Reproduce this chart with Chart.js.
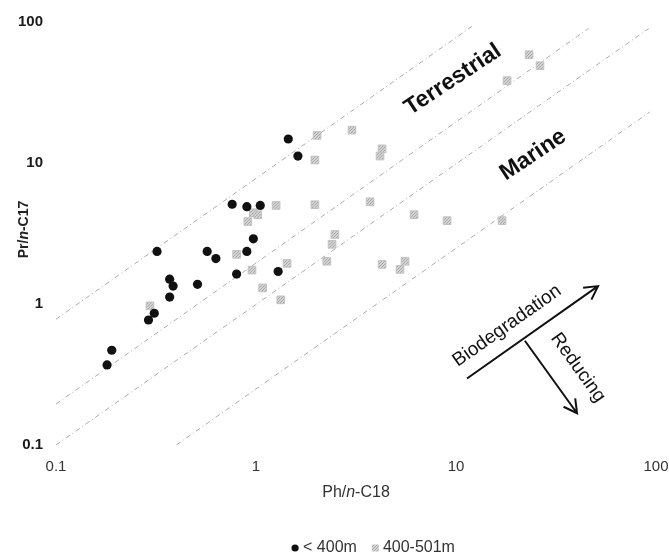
<!DOCTYPE html>
<html>
<head>
<meta charset="utf-8">
<script src="https://cdn.jsdelivr.net/npm/chart.js@4.4.1/dist/chart.umd.min.js"></script>
<style>
  html, body { margin: 0; padding: 0; background: #fff; }
  #wrap { width: 669px; height: 559px; }
</style>
</head>
<body>
<div id="wrap"><canvas id="ratioChart"></canvas></div>
<script>
// Ph/n-C18 (x) and Pr/n-C17 (y), samples shallower than 400 m
const shallowX = [1.45, 1.62, 0.76, 0.90, 1.05, 0.97, 0.90, 0.32, 0.57, 0.63, 0.80, 1.29, 0.37, 0.385, 0.51, 0.37, 0.31, 0.29, 0.19, 0.18];
const shallowY = [14.8, 11.2, 5.1, 4.9, 5.0, 2.9, 2.36, 2.36, 2.36, 2.1, 1.63, 1.7, 1.5, 1.34, 1.38, 1.12, 0.86, 0.77, 0.47, 0.37];

// samples from 400-501 m
const deepX = [1.26, 1.97, 0.97, 1.02, 0.91, 2.48, 2.40, 0.80, 1.43, 0.955, 2.26, 1.08, 1.33, 3.02, 2.02, 1.97, 4.27, 4.17, 3.72, 6.17, 9.02, 4.27, 5.56, 5.25, 23.2, 26.3, 18.0, 17.0, 0.295];
const deepY = [5.0, 5.06, 4.44, 4.3, 3.84, 3.11, 2.65, 2.25, 1.94, 1.74, 2.01, 1.30, 1.07, 17.1, 15.7, 10.5, 12.6, 11.2, 5.31, 4.30, 3.9, 1.91, 2.01, 1.76, 58.6, 49.0, 38.4, 3.9, 0.97];

const seriesLabels = ['< 400m', '400-501m'];

const tickValues = [0.1, 1, 10, 100];
const tickLabels = ['0.1', '1', '10', '100'];

// dashed guide lines (start / end points)
const guideStartX = [0.1, 0.1, 0.1, 0.4];
const guideStartY = [0.78, 0.195, 0.1, 0.1];
const guideEndX = [12, 46, 92, 93];
const guideEndY = [93, 90, 90, 23];

const FONT = '"Liberation Sans", Arial, sans-serif';

function toPoints(xs, ys) {
  return xs.map((v, i) => ({ x: v, y: ys[i] }));
}

// speckled grey fill for the squares
function greyPattern() {
  const c = document.createElement('canvas');
  c.width = 3; c.height = 3;
  const g = c.getContext('2d');
  g.fillStyle = '#d4d4d4';
  g.fillRect(0, 0, 3, 3);
  g.fillStyle = '#a8a8a8';
  g.fillRect(0, 0, 1, 1);
  g.fillRect(2, 1, 1, 1);
  g.fillRect(1, 2, 1, 1);
  return g.createPattern(c, 'repeat');
}
const greyFill = greyPattern();

const datasets = [
  {
    label: seriesLabels[0],
    data: toPoints(shallowX, shallowY),
    pointStyle: 'circle',
    pointRadius: 4.6,
    backgroundColor: '#111',
    borderColor: '#111',
    borderWidth: 0
  },
  {
    label: seriesLabels[1],
    data: toPoints(deepX, deepY),
    pointStyle: 'rect',
    pointRadius: 5.4,
    backgroundColor: greyFill,
    borderColor: '#c2c2c2',
    borderWidth: 1
  }
];

guideStartX.forEach((sx, i) => {
  datasets.push({
    label: 'guide' + i,
    data: [{ x: sx, y: guideStartY[i] }, { x: guideEndX[i], y: guideEndY[i] }],
    showLine: true,
    pointRadius: 0,
    borderColor: '#ababab',
    borderWidth: 1,
    borderDash: [5, 3, 1, 3]
  });
});

function decadeTicks(scale) {
  scale.ticks = tickValues.map(v => ({ value: v }));
}

// text with an italic "n" in the middle
function drawRich(ctx, parts, size, weight, color) {
  let total = 0;
  parts.forEach(p => {
    ctx.font = (p.italic ? 'italic ' : '') + weight + ' ' + size + 'px ' + FONT;
    p.w = ctx.measureText(p.text).width;
    total += p.w;
  });
  let cx = -total / 2;
  ctx.fillStyle = color;
  ctx.textBaseline = 'middle';
  ctx.textAlign = 'left';
  parts.forEach(p => {
    ctx.font = (p.italic ? 'italic ' : '') + weight + ' ' + size + 'px ' + FONT;
    ctx.fillText(p.text, cx, 0);
    cx += p.w;
  });
}

function arrow(ctx, x0, y0, x1, y1) {
  const a = Math.atan2(y1 - y0, x1 - x0);
  const head = 15;
  ctx.beginPath();
  ctx.moveTo(x0, y0);
  ctx.lineTo(x1, y1);
  ctx.moveTo(x1 - head * Math.cos(a - 0.5), y1 - head * Math.sin(a - 0.5));
  ctx.lineTo(x1, y1);
  ctx.lineTo(x1 - head * Math.cos(a + 0.5), y1 - head * Math.sin(a + 0.5));
  ctx.stroke();
  return a;
}

function rotatedText(ctx, text, x, y, angle, font) {
  ctx.save();
  ctx.translate(x, y);
  ctx.rotate(angle);
  ctx.font = font;
  ctx.textAlign = 'center';
  ctx.textBaseline = 'middle';
  ctx.fillText(text, 0, 0);
  ctx.restore();
}

const annotate = {
  id: 'annotate',
  afterDraw(chart) {
    const { ctx } = chart;
    const xs = chart.scales.x, ys = chart.scales.y;
    const px = v => xs.getPixelForValue(v);
    const py = v => ys.getPixelForValue(v);

    ctx.save();
    ctx.fillStyle = '#111';

    // field labels between the guide lines
    const slope = -33.5 * Math.PI / 180;
    rotatedText(ctx, 'Terrestrial', px(9.66), py(39.0), slope, 'bold 23px ' + FONT);
    rotatedText(ctx, 'Marine', px(24.3), py(11.4), slope, 'bold 23px ' + FONT);

    // process arrows
    ctx.strokeStyle = '#111';
    ctx.lineWidth = 2;
    const a1 = arrow(ctx, px(11.35), py(0.296), px(51.3), py(1.339));
    const a2 = arrow(ctx, px(22.1), py(0.549), px(40.3), py(0.168));
    rotatedText(ctx, 'Biodegradation', px(18.0), py(0.70), a1, '19px ' + FONT);
    rotatedText(ctx, 'Reducing', px(40.7), py(0.354), a2, '19px ' + FONT);

    // axis titles
    ctx.save();
    ctx.translate(24, (chart.chartArea.top + chart.chartArea.bottom) / 2 - 4);
    ctx.rotate(-Math.PI / 2);
    drawRich(ctx, [{ text: 'Pr/' }, { text: 'n', italic: true }, { text: '-C17' }], 14, 'bold', '#222');
    ctx.restore();

    ctx.save();
    ctx.translate((chart.chartArea.left + chart.chartArea.right) / 2, 493);
    drawRich(ctx, [{ text: 'Ph/' }, { text: 'n', italic: true }, { text: '-C18' }], 16, 'normal', '#333');
    ctx.restore();

    // legend
    ctx.font = '16px ' + FONT;
    const items = chart.data.datasets.slice(0, 2);
    const widths = items.map(d => ctx.measureText(d.label).width);
    const total = widths.reduce((s, w) => s + w + 12, 0) + 14;
    let lx = 373 - total / 2;
    const ly = 548;
    items.forEach((d, i) => {
      if (d.pointStyle === 'circle') {
        ctx.fillStyle = d.backgroundColor;
        ctx.beginPath();
        ctx.arc(lx + 4, ly, 3.6, 0, Math.PI * 2);
        ctx.fill();
      } else {
        ctx.fillStyle = d.backgroundColor;
        ctx.fillRect(lx + 1, ly - 3.5, 7, 7);
      }
      ctx.fillStyle = '#333';
      ctx.textAlign = 'left';
      ctx.textBaseline = 'middle';
      ctx.fillText(d.label, lx + 12, ly);
      lx += 12 + widths[i] + 14;
    });
    ctx.restore();
  }
};

new Chart(document.getElementById('ratioChart'), {
  type: 'scatter',
  data: { datasets },
  options: {
    responsive: true,
    maintainAspectRatio: false,
    animation: false,
    layout: { padding: { left: 0, top: 20, right: 13, bottom: 0 } },
    plugins: {
      legend: { display: false },
      tooltip: { enabled: false }
    },
    scales: {
      x: {
        type: 'logarithmic',
        min: 0.1,
        max: 100,
        afterBuildTicks: decadeTicks,
        afterFit: s => {
          s.height = 114;
          s.paddingLeft = 0;
          s.paddingRight = 0;
        },
        grid: { display: false, drawTicks: false },
        border: { display: false },
        ticks: {
          padding: 13,
          color: '#333',
          font: { family: FONT, size: 15 },
          maxRotation: 0,
          autoSkip: false,
          callback: (v, i) => tickLabels[i]
        }
      },
      y: {
        type: 'logarithmic',
        min: 0.1,
        max: 100,
        afterBuildTicks: decadeTicks,
        afterFit: s => { s.width = 56; },
        grid: { display: false, drawTicks: false },
        border: { display: false },
        ticks: {
          padding: 13,
          color: '#1a1a1a',
          font: { family: FONT, size: 15, weight: 'bold' },
          autoSkip: false,
          callback: (v, i) => tickLabels[i]
        }
      }
    }
  },
  plugins: [annotate]
});
</script>
</body>
</html>
